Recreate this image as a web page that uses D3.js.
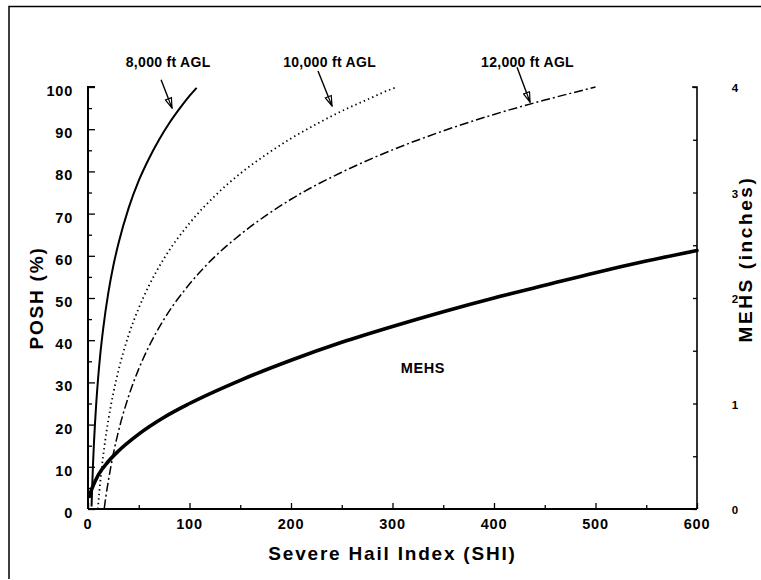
<!DOCTYPE html>
<html>
<head>
<meta charset="utf-8">
<script src="https://cdn.jsdelivr.net/npm/d3@7"></script>
<style>
html,body{margin:0;padding:0;background:#fff;}
svg{display:block;font-family:"Liberation Sans",Arial,sans-serif;font-weight:bold;}
</style>
</head>
<body>
<svg id="chart" width="761" height="580"></svg>
<script>
// ---- data ----
const shi8  = [3.5, 4, 5, 6, 7, 8, 10, 12, 15, 20, 25, 30, 40, 50, 60, 70, 80, 90, 100, 107];
const posh8 = [0.6, 4.5, 11, 16.3, 20.7, 24.6, 31.1, 36.4, 42.8, 51.2, 57.7, 62.9, 71.3, 77.8, 83.0, 87.5, 91.4, 94.8, 97.9, 99.8];

const shi10  = [9.7, 11, 12, 14, 17, 20, 25, 30, 40, 50, 60, 75, 100, 125, 150, 175, 200, 225, 250, 275, 300, 305];
const posh10 = [0, 3.7, 6.2, 10.7, 16.3, 21.0, 27.5, 32.8, 41.2, 47.6, 52.9, 59.4, 67.7, 74.2, 79.5, 83.9, 87.8, 91.2, 94.3, 97.0, 99.6, 100];

const shi12  = [16, 18, 20, 25, 30, 40, 50, 60, 75, 100, 125, 150, 200, 250, 300, 350, 400, 450, 500];
const posh12 = [0.1, 3.6, 6.6, 13.1, 18.4, 26.7, 33.2, 38.5, 45.0, 53.3, 59.8, 65.0, 73.4, 79.8, 85.1, 89.6, 93.5, 96.9, 100];

const shiM  = [1.5, 3, 5, 10, 20, 30, 50, 75, 100, 150, 200, 250, 300, 350, 400, 450, 500, 550, 600];
const mehsIn = [0.12, 0.17, 0.22, 0.32, 0.45, 0.55, 0.71, 0.87, 1.0, 1.22, 1.41, 1.58, 1.73, 1.87, 2.0, 2.12, 2.24, 2.35, 2.45];

const xTicks = [0, 100, 200, 300, 400, 500, 600];
const yTicks = [0, 10, 20, 30, 40, 50, 60, 70, 80, 90, 100];
const rTicks = [0, 1, 2, 3, 4];

const curveLabels = ["8,000 ft AGL", "10,000 ft AGL", "12,000 ft AGL"];
// annotation anchors in data units: [tail SHI, tail POSH, tip SHI, tip POSH, label SHI]
const labelAnchors = [[72, 101.7, 82.8, 95.0, 79], [226.6, 103.8, 240.4, 95.5, 238], [422.7, 104.7, 435.5, 96.4, 433]];

// ---- layout ----
const svg = d3.select("#chart");
const x = d3.scaleLinear().domain([0, 600]).range([88, 697]);
const y = d3.scaleLinear().domain([0, 100]).range([509, 87]);
const yR = d3.scaleLinear().domain([0, 4]).range([509, 87]);

// outer frame (left and top edges)
svg.append("path").attr("d", "M9,579 V6.5 H761").attr("fill", "none").attr("stroke", "#000").attr("stroke-width", 1.5);

// axes: inward ticks
const gL = svg.append("g").attr("transform", `translate(${x(0)},0)`);
gL.call(d3.axisRight(y).ticks(20).tickSize(7).tickFormat(""));
gL.selectAll(".tick line").attr("x2", (d) => d % 10 === 0 ? 7 : 4);
gL.select(".domain").attr("d", `M7,${y(100)}H0V${y(0)}`);
const gB = svg.append("g").attr("transform", `translate(0,${y(0)})`);
gB.call(d3.axisTop(x).ticks(12).tickSize(6).tickFormat(""));
gB.selectAll(".tick line").attr("y2", (d) => d % 100 === 0 ? -6 : -4);
gB.select(".domain").attr("d", `M${x(0)},0H${x(600)}`);
const gR = svg.append("g").attr("transform", `translate(${x(600)},0)`);
gR.call(d3.axisLeft(yR).ticks(8).tickSize(4).tickFormat(""));
gR.select(".domain").attr("d", `M-5,${yR(4)}H0V${yR(0)}`);
svg.selectAll(".domain").attr("stroke", "#000").attr("stroke-width", 2).attr("fill", "none");
gR.select(".domain").attr("stroke-width", 1.6);
svg.selectAll(".tick line").attr("stroke", "#000").attr("stroke-width", 1.3);

// tick labels
svg.append("g").selectAll("text").data(yTicks).join("text")
  .attr("x", 73).attr("y", d => y(d) + 9).attr("text-anchor", "end")
  .attr("font-size", 14.5).attr("letter-spacing", 0.8).text(d => d);
svg.append("g").selectAll("text").data(xTicks).join("text")
  .attr("x", d => x(d)).attr("y", 529).attr("text-anchor", "middle")
  .attr("font-size", 14.5).attr("letter-spacing", 0.8).text(d => d);
svg.append("g").selectAll("text").data(rTicks).join("text")
  .attr("x", 735).attr("y", d => yR(d) + 5).attr("text-anchor", "middle")
  .attr("font-size", 11.5).text(d => d);

// axis titles
svg.append("text").attr("transform", `translate(43,${(y(0)+y(100))/2}) rotate(-90)`)
  .attr("text-anchor", "middle").attr("font-size", 19).attr("letter-spacing", 1.8).text("POSH (%)");
svg.append("text").attr("x", (x(0)+x(600))/2).attr("y", 560)
  .attr("text-anchor", "middle").attr("font-size", 19).attr("letter-spacing", 1.8).text("Severe Hail Index (SHI)");
svg.append("text").attr("transform", `translate(752,${yR(2) - 39}) rotate(-90)`)
  .attr("text-anchor", "middle").attr("font-size", 19).attr("letter-spacing", 2.6).text("MEHS (inches)");

// curves
const line = d3.line().curve(d3.curveMonotoneX);
function draw(xs, ys, ys_scale, attrs) {
  const p = svg.append("path")
    .attr("d", line(xs.map((v, i) => [x(v), ys_scale(ys[i])])))
    .attr("fill", "none").attr("stroke", "#000");
  Object.entries(attrs).forEach(([k, v]) => p.attr(k, v));
}
draw(shi8, posh8, y, {"stroke-width": 2});
draw(shi10, posh10, y, {"stroke-width": 1.8, "stroke-dasharray": "1.4,3.2"});
draw(shi12, posh12, y, {"stroke-width": 1.5, "stroke-dasharray": "9,3,2,3"});
draw(shiM, mehsIn, yR, {"stroke-width": 3.6, "stroke-linecap": "round"});

// arrow annotations
const defs = svg.append("defs");
defs.append("marker").attr("id", "ah").attr("viewBox", "0 0 12 8").attr("refX", 11).attr("refY", 4)
  .attr("markerWidth", 12).attr("markerHeight", 8).attr("markerUnits", "userSpaceOnUse").attr("orient", "auto")
  .append("path").attr("d", "M1,0.8 L11,4 L1,7.2 Z M1,4 L11,4").attr("fill", "#fff").attr("stroke", "#000").attr("stroke-width", 1.2);
labelAnchors.forEach((a, i) => {
  svg.append("line").attr("x1", x(a[0])).attr("y1", y(a[1])).attr("x2", x(a[2])).attr("y2", y(a[3]))
    .attr("stroke", "#000").attr("stroke-width", 1.4).attr("marker-end", "url(#ah)");
  svg.append("text").attr("x", x(a[4])).attr("y", 67).attr("text-anchor", "middle")
    .attr("font-size", 14).attr("letter-spacing", 0.3).text(curveLabels[i]);
});
svg.append("text").attr("x", x(330)).attr("y", 373).attr("text-anchor", "middle")
  .attr("font-size", 14.5).attr("letter-spacing", 0.6).text("MEHS");
</script>
</body>
</html>
